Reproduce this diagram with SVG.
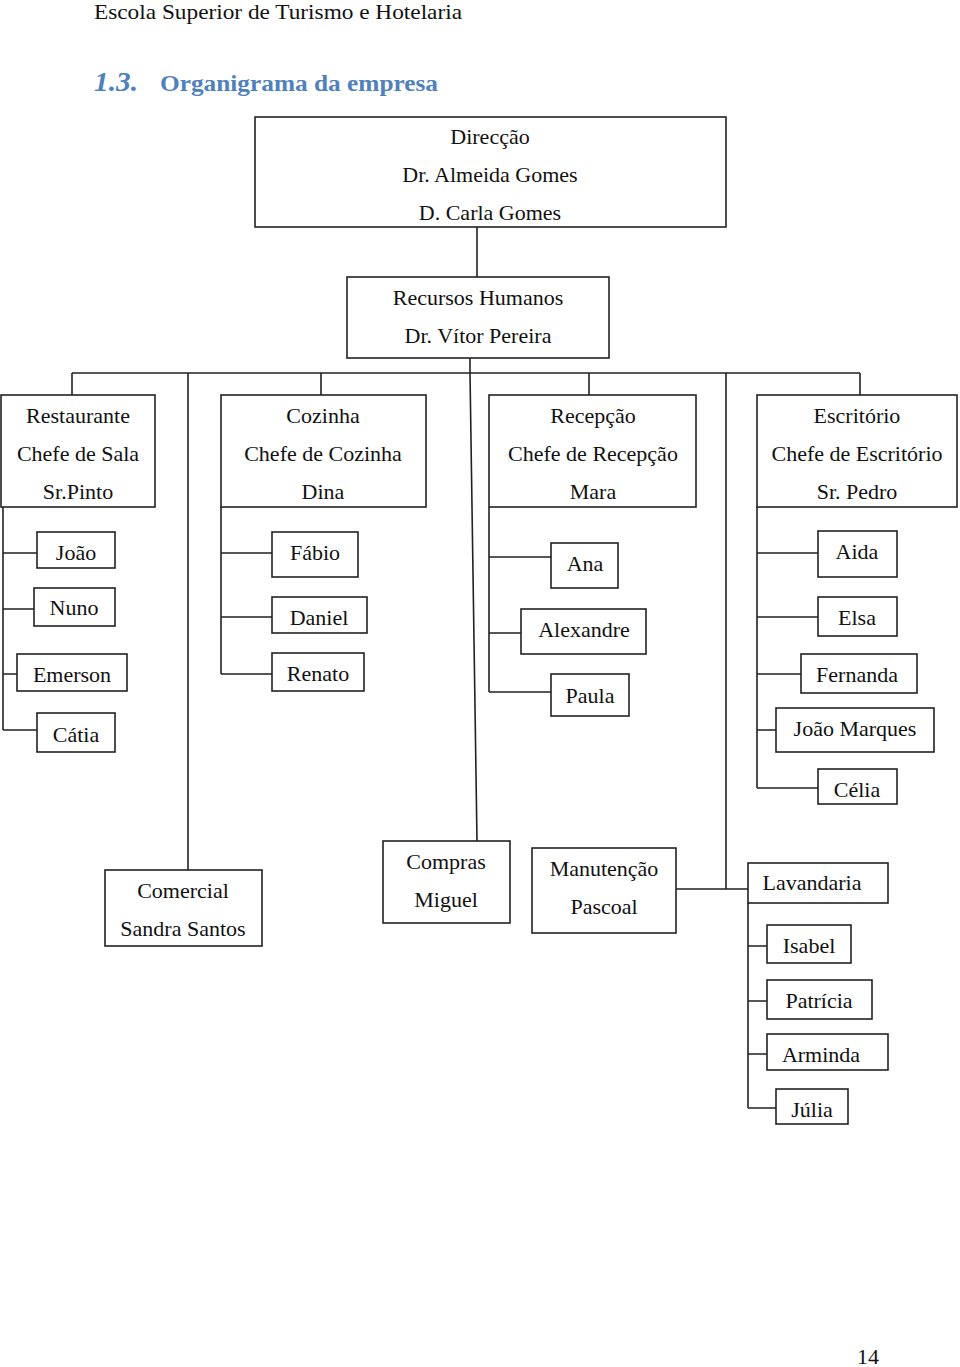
<svg xmlns="http://www.w3.org/2000/svg" width="960" height="1367" viewBox="0 0 960 1367">
<style>
.b{fill:#fff;stroke:#222;stroke-width:1.6}
.c{fill:none;stroke:#222;stroke-width:1.6}
text{font-family:"Liberation Serif","Times New Roman",serif;font-size:22px;fill:#111}
.m{text-anchor:middle}
.h{font-size:21px}
.t{fill:#4f81bd;font-weight:bold}
</style>
<rect width="960" height="1367" fill="#fff"/>
<text x="94" y="19" class="h" textLength="368" lengthAdjust="spacingAndGlyphs">Escola Superior de Turismo e Hotelaria</text>
<text x="94" y="91" class="t" style="font-size:28px;font-style:italic" textLength="44" lengthAdjust="spacingAndGlyphs">1.3.</text>
<text x="160" y="91" class="t" style="font-size:24px" textLength="278" lengthAdjust="spacingAndGlyphs">Organigrama da empresa</text>

<g id="connectors">
<path class="c" d="M477 227V277M470 358V373M72 373H860M72 373V395M321 373V395M589 373V395M860 373V395"/>
<path class="c" d="M188 373V870M470 373L477 841M726 373V889H748M676 889H748"/>
<path class="c" d="M3 507V730M3 553H37M3 609H34M3 674H17M3 730H37"/>
<path class="c" d="M221 507V674M221 553H272M221 617H272M221 674H272"/>
<path class="c" d="M489 507V692M489 557H551M489 633H521M489 692H551"/>
<path class="c" d="M757 507V788M757 553H818M757 617H818M757 674H801M757 730H776M757 788H818"/>
<path class="c" d="M748 903V1108M748 946H767M748 1001H767M748 1054H767M748 1108H776"/>
</g>

<g id="direccao"><rect class="b" x="255" y="117" width="471" height="110"/>
<text class="m" x="490" y="144">Direcção</text><text class="m" x="490" y="182">Dr. Almeida Gomes</text><text class="m" x="490" y="220">D. Carla Gomes</text></g>
<g id="rh"><rect class="b" x="347" y="277" width="262" height="81"/>
<text class="m" x="478" y="305">Recursos Humanos</text><text class="m" x="478" y="343">Dr. Vítor Pereira</text></g>

<g id="restaurante"><rect class="b" x="1" y="395" width="154" height="112"/>
<text class="m" x="78" y="423">Restaurante</text><text class="m" x="78" y="461">Chefe de Sala</text><text class="m" x="78" y="499">Sr.Pinto</text></g>
<g id="cozinha"><rect class="b" x="221" y="395" width="205" height="112"/>
<text class="m" x="323" y="423">Cozinha</text><text class="m" x="323" y="461">Chefe de Cozinha</text><text class="m" x="323" y="499">Dina</text></g>
<g id="recepcao"><rect class="b" x="489" y="395" width="207" height="112"/>
<text class="m" x="593" y="423">Recepção</text><text class="m" x="593" y="461">Chefe de Recepção</text><text class="m" x="593" y="499">Mara</text></g>
<g id="escritorio"><rect class="b" x="757" y="395" width="200" height="112"/>
<text class="m" x="857" y="423">Escritório</text><text class="m" x="857" y="461">Chefe de Escritório</text><text class="m" x="857" y="499">Sr. Pedro</text></g>

<g id="joao"><rect class="b" x="37" y="532" width="78" height="36"/><text class="m" x="76" y="560">João</text></g>
<g id="nuno"><rect class="b" x="34" y="588" width="81" height="38"/><text class="m" x="74" y="615">Nuno</text></g>
<g id="emerson"><rect class="b" x="17" y="654" width="110" height="37"/><text class="m" x="72" y="682">Emerson</text></g>
<g id="catia"><rect class="b" x="37" y="713" width="78" height="39"/><text class="m" x="76" y="742">Cátia</text></g>

<g id="fabio"><rect class="b" x="272" y="532" width="86" height="45"/><text class="m" x="315" y="560">Fábio</text></g>
<g id="daniel"><rect class="b" x="272" y="597" width="95" height="36"/><text class="m" x="319" y="625">Daniel</text></g>
<g id="renato"><rect class="b" x="272" y="653" width="92" height="38"/><text class="m" x="318" y="681">Renato</text></g>

<g id="ana"><rect class="b" x="551" y="543" width="67" height="45"/><text class="m" x="585" y="571">Ana</text></g>
<g id="alexandre"><rect class="b" x="521" y="609" width="125" height="45"/><text class="m" x="584" y="637">Alexandre</text></g>
<g id="paula"><rect class="b" x="551" y="674" width="78" height="42"/><text class="m" x="590" y="703">Paula</text></g>

<g id="aida"><rect class="b" x="818" y="531" width="79" height="46"/><text class="m" x="857" y="559">Aida</text></g>
<g id="elsa"><rect class="b" x="818" y="597" width="79" height="39"/><text class="m" x="857" y="625">Elsa</text></g>
<g id="fernanda"><rect class="b" x="801" y="654" width="116" height="39"/><text class="m" x="857" y="682">Fernanda</text></g>
<g id="joaomarques"><rect class="b" x="776" y="708" width="158" height="44"/><text class="m" x="855" y="736">João Marques</text></g>
<g id="celia"><rect class="b" x="818" y="769" width="79" height="35"/><text class="m" x="857" y="797">Célia</text></g>

<g id="comercial"><rect class="b" x="105" y="870" width="157" height="76"/>
<text class="m" x="183" y="898">Comercial</text><text class="m" x="183" y="936">Sandra Santos</text></g>
<g id="compras"><rect class="b" x="383" y="841" width="127" height="82"/>
<text class="m" x="446" y="869">Compras</text><text class="m" x="446" y="907">Miguel</text></g>
<g id="manutencao"><rect class="b" x="532" y="848" width="144" height="85"/>
<text class="m" x="604" y="876">Manutenção</text><text class="m" x="604" y="914">Pascoal</text></g>
<g id="lavandaria"><rect class="b" x="748" y="863" width="140" height="40"/><text class="m" x="812" y="890">Lavandaria</text></g>
<g id="isabel"><rect class="b" x="767" y="925" width="84" height="38"/><text class="m" x="809" y="953">Isabel</text></g>
<g id="patricia"><rect class="b" x="767" y="980" width="105" height="39"/><text class="m" x="819" y="1008">Patrícia</text></g>
<g id="arminda"><rect class="b" x="767" y="1034" width="121" height="36"/><text class="m" x="821" y="1062">Arminda</text></g>
<g id="julia"><rect class="b" x="776" y="1089" width="72" height="35"/><text class="m" x="812" y="1117">Júlia</text></g>

<text x="857" y="1364">14</text>
</svg>
